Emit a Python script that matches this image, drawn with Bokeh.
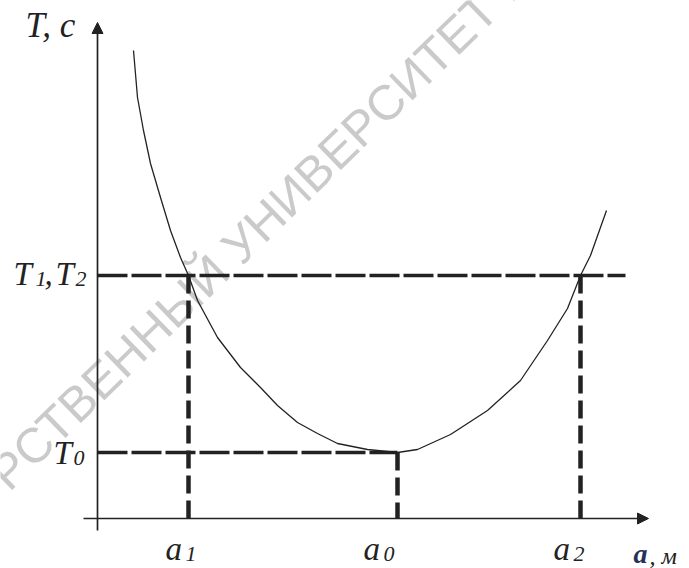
from bokeh.plotting import figure
from bokeh.models import Range1d, Arrow, NormalHead
from bokeh.core.properties import value
from bokeh.embed import file_html
from bokeh.resources import INLINE

# Period T versus distance a (arbitrary units, origin at the axes crossing)
curve_a = [0.36, 0.40, 0.46, 0.53, 0.63, 0.73, 0.83, 0.91, 1.00, 1.20, 1.43,
           1.63, 1.80, 2.00, 2.20, 2.40, 2.70, 3.00, 3.20, 3.53, 3.90, 4.23,
           4.50, 4.70, 4.83, 4.93, 5.09]
curve_T = [4.68, 4.21, 3.88, 3.55, 3.21, 2.88, 2.61, 2.43, 2.18, 1.81, 1.51,
           1.31, 1.13, 0.96, 0.85, 0.75, 0.69, 0.66, 0.69, 0.84, 1.08, 1.38,
           1.78, 2.10, 2.43, 2.63, 3.08]

# Marked values
a1, a0, a2 = 0.91, 3.00, 4.83
T0, T12 = 0.66, 2.43
a_axis_end = 5.51
T_axis_end = 4.96
T12_line_end = 5.28

watermark = "РСТВЕННЫЙ УНИВЕРСИТЕТ И"

INK = "#222222"
SERIF = value("Liberation Serif")

p = figure(width=689, height=568, output_backend="svg", toolbar_location=None,
           x_range=Range1d(-0.97, 5.92), y_range=Range1d(-0.50, 5.18),
           min_border=0, outline_line_color=None, background_fill_color="white",
           border_fill_color="white")
p.axis.visible = False
p.grid.visible = False

# faint diagonal watermark behind the drawing
p.text(x=[-1.00], y=[0.38], text=[watermark], angle=0.772,
       text_font=value("Liberation Sans"), text_font_size="49px",
       text_color="#cacaca", text_align="left", text_baseline="middle")

# axes with arrow heads
p.add_layout(Arrow(end=NormalHead(size=11, fill_color=INK, line_color=INK),
                   x_start=0, y_start=-0.12, x_end=0, y_end=T_axis_end,
                   line_color=INK, line_width=1.7))
p.add_layout(Arrow(end=NormalHead(size=11, fill_color=INK, line_color=INK),
                   x_start=-0.14, y_start=0, x_end=a_axis_end, y_end=0,
                   line_color=INK, line_width=1.7))

# horizontal dashed levels
p.segment(x0=[0, 0], y0=[T12, T0], x1=[T12_line_end, a0], y1=[T12, T0],
          line_color=INK, line_width=3.5, line_dash="30 4")
# vertical dashed drops
p.segment(x0=[a1, a0, a2], y0=[T12, T0, T12], x1=[a1, a0, a2], y1=[0, 0, 0],
          line_color=INK, line_width=4.5, line_dash="18 7")

# the curve T(a)
p.line(curve_a, curve_T, line_color=INK, line_width=1.3)

# labels: main glyphs and small index glyphs
big = dict(text_font=SERIF, text_font_style="italic", text_font_size="33px",
           text_color=INK, text_align="left", text_baseline="alphabetic")
small = dict(big, text_font_size="22px")

p.text(x=[-0.72], y=[4.93], text=["T, с"], **dict(big, text_font_size="35px"))

# T1, T2 at the upper level
p.text(x=[-0.84, -0.42], y=[T12 + 0.02] * 2, text=["T", "T"], **big)
p.text(x=[-0.62, -0.22], y=[T12 - 0.03] * 2, text=["1", "2"], **small)
p.text(x=[-0.53], y=[T12 + 0.02], text=[","], **big)

# T0 at the lower level
p.text(x=[-0.44], y=[T0], text=["T"], **big)
p.text(x=[-0.24], y=[T0 - 0.05], text=["0"], **small)

# a1, a0, a2 under the axis
for a, sub, shift in [(a1, "1", 0.23), (a0, "0", 0.34), (a2, "2", 0.27)]:
    p.text(x=[a - shift], y=[-0.30], text=["a"], **big)
    p.text(x=[a - shift + 0.20], y=[-0.35], text=[sub], **small)

p.text(x=[5.36], y=[-0.35], text=["a"], text_font=SERIF, text_font_style="bold italic",
       text_font_size="28px", text_color="#26305a", text_align="left",
       text_baseline="alphabetic")
p.text(x=[5.52], y=[-0.37], text=[", м"], text_font=SERIF, text_font_style="italic",
       text_font_size="24px", text_color=INK, text_align="left",
       text_baseline="alphabetic")

open("out.html", "w").write(file_html(p, INLINE))
